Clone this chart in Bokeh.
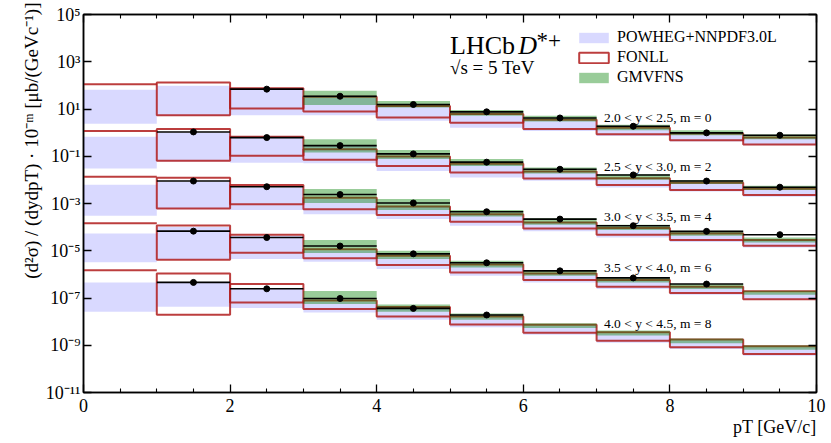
import math
from bokeh.plotting import figure
from bokeh.models import (ColumnDataSource, Range1d, FixedTicker, LinearAxis, LogAxis,
                          CustomJSTickFormatter, Label, Legend, LegendItem, Title)
from bokeh.embed import file_html
from bokeh.resources import INLINE

nan = float("nan")

# ---------------- data ----------------
pt_edges = [0, 1, 2, 3, 4, 5, 6, 7, 8, 9, 10]
y_bins = ["2.0 < y < 2.5", "2.5 < y < 3.0", "3.0 < y < 3.5", "3.5 < y < 4.0", "4.0 < y < 4.5"]
m_exp = [0, 2, 4, 6, 8]

# LHCb measurement, unscaled [μb/(GeV/c)]
data_xs = [
    [nan, nan, 69.2, 34.7, 15.5, 7.59, 4.17, 1.86, 0.977, 0.776],
    [nan, 107, 61.7, 28.2, 12.6, 5.62, 2.82, 1.62, 0.891, 0.490],
    [nan, 89.1, 51.3, 24.0, 10.5, 4.47, 2.19, 1.15, 0.661, 0.479],
    [nan, 67.6, 36.3, 15.8, 7.41, 3.09, 1.41, 0.708, 0.389, nan],
    [nan, 45.7, 24.5, 9.55, 3.63, 1.91, nan, nan, nan, nan],
]
powheg_hi = [
    [64.6, 95.5, 75.9, 32.4, 12.6, 5.50, 3.16, 1.55, 0.851, 0.589],
    [66.1, 100, 61.7, 26.3, 8.91, 4.47, 2.04, 1.07, 0.708, 0.389],
    [61.7, 83.2, 47.9, 15.5, 7.08, 3.24, 1.41, 0.832, 0.479, 0.263],
    [53.7, 102, 42.7, 10.0, 5.25, 2.34, 1.02, 0.537, 0.282, 0.166],
    [45.7, 45.7, 26.3, 6.92, 3.39, 1.51, 0.661, 0.316, 0.158, 0.0832],
]
powheg_lo = [
    [2.40, 5.01, 5.50, 5.50, 3.16, 1.62, 1.17, 0.724, 0.417, 0.295],
    [3.02, 6.03, 5.37, 5.01, 2.40, 1.26, 0.912, 0.479, 0.324, 0.191],
    [3.02, 5.75, 5.25, 3.55, 2.19, 1.15, 0.661, 0.363, 0.234, 0.138],
    [3.24, 4.27, 4.47, 3.39, 1.70, 0.871, 0.457, 0.240, 0.138, 0.0832],
    [2.63, 4.27, 3.80, 2.45, 1.20, 0.575, 0.275, 0.129, 0.0692, 0.0363],
]
fonll_hi = [
    [112, 132, 75.9, 33.1, 13.5, 6.17, 3.47, 1.62, 0.912, 0.617],
    [117, 141, 66.1, 20.0, 9.77, 4.79, 2.24, 1.17, 0.759, 0.417],
    [135, 123, 60.3, 17.4, 7.41, 3.55, 1.58, 0.912, 0.537, 0.282],
    [145, 117, 47.9, 11.7, 6.17, 2.63, 1.10, 0.575, 0.302, 0.191],
    [151, 110, 38.9, 7.76, 4.17, 1.66, 0.741, 0.355, 0.174, 0.0912],
]
fonll_lo = [
    [nan, 5.50, 10.5, 7.76, 4.37, 2.63, 1.41, 0.851, 0.479, 0.316],
    [nan, 6.46, 10.5, 7.08, 3.89, 2.04, 1.15, 0.603, 0.372, 0.229],
    [nan, 6.17, 9.33, 5.75, 3.24, 1.70, 0.871, 0.479, 0.282, 0.162],
    [nan, 4.17, 8.32, 4.79, 2.51, 1.20, 0.575, 0.302, 0.162, 0.0891],
    [nan, 1.95, 6.46, 3.39, 1.66, 0.759, 0.339, 0.155, 0.0813, 0.0427],
]
gmvfns_hi = [
    [nan, nan, nan, 58.9, 21.9, 9.12, 5.13, 2.14, 1.26, 0.832],
    [nan, nan, nan, 52.5, 18.6, 7.59, 3.31, 1.74, 0.977, 0.562],
    [nan, nan, nan, 40.7, 15.5, 5.37, 2.40, 1.26, 0.708, 0.363],
    [nan, nan, nan, 28.8, 10.0, 3.80, 1.51, 0.741, 0.389, 0.204],
    [nan, nan, nan, 20.0, 5.37, 2.19, 0.851, 0.417, 0.191, 0.100],
]
gmvfns_lo = [
    [nan, nan, nan, 14.8, 11.5, 5.13, 2.95, 1.26, 0.776, 0.525],
    [nan, nan, nan, 14.5, 7.59, 3.89, 1.86, 1.02, 0.661, 0.372],
    [nan, nan, nan, 10.5, 5.37, 2.82, 1.26, 0.759, 0.427, 0.224],
    [nan, nan, nan, 7.94, 4.47, 1.95, 0.871, 0.457, 0.240, 0.138],
    [nan, nan, nan, 5.62, 2.63, 1.20, 0.537, 0.257, 0.123, 0.0646],
]
y_ticks = [1e5, 1e3, 1e1, 1e-1, 1e-3, 1e-5, 1e-7, 1e-9, 1e-11]
x_ticks = [0, 2, 4, 6, 8, 10]
x_minor = [0.5, 1, 1.5, 2.5, 3, 3.5, 4.5, 5, 5.5, 6.5, 7, 7.5, 8.5, 9, 9.5]

# ---------------- styles ----------------
SERIF = "Liberation Serif"
BLUE = "blue"
RED = "#b01c1c"
GREEN = "green"

p = figure(width=831, height=443, x_range=Range1d(0, 10), y_range=Range1d(1e-11, 1e5),
           y_axis_type="log", output_backend="svg", toolbar_location=None,
           min_border_left=83, min_border_right=15, min_border_top=14, min_border_bottom=51)
p.grid.visible = False
p.outline_line_color = "black"
p.outline_line_width = 1.5
p.background_fill_color = "white"
p.border_fill_color = "white"

def finite(*vals):
    return all(v == v for v in vals)

lefts, rights = pt_edges[:-1], pt_edges[1:]
pow_r = fonll_r = gmv_r = None
for r in range(len(y_bins)):
    s = 10.0 ** (-m_exp[r])
    idx = [i for i in range(10) if finite(powheg_hi[r][i], powheg_lo[r][i])]
    src = ColumnDataSource(dict(left=[lefts[i] for i in idx], right=[rights[i] for i in idx],
                                top=[powheg_hi[r][i] * s for i in idx],
                                bottom=[powheg_lo[r][i] * s for i in idx]))
    rr = p.quad(left="left", right="right", top="top", bottom="bottom", source=src,
                fill_color=BLUE, fill_alpha=0.15, line_color=None)
    if pow_r is None:
        pow_r = rr
for r in range(len(y_bins)):
    s = 10.0 ** (-m_exp[r])
    idx = [i for i in range(10) if finite(fonll_hi[r][i], fonll_lo[r][i])]
    src = ColumnDataSource(dict(left=[lefts[i] for i in idx], right=[rights[i] for i in idx],
                                top=[fonll_hi[r][i] * s for i in idx],
                                bottom=[fonll_lo[r][i] * s for i in idx]))
    rr = p.quad(left="left", right="right", top="top", bottom="bottom", source=src,
                fill_color=None, line_color=RED, line_width=2, line_alpha=0.85)
    if fonll_r is None:
        fonll_r = rr
    jdx = [i for i in range(10) if finite(fonll_hi[r][i]) and not finite(fonll_lo[r][i])]
    src2 = ColumnDataSource(dict(x0=[lefts[i] for i in jdx], x1=[rights[i] for i in jdx],
                                 y=[fonll_hi[r][i] * s for i in jdx]))
    p.segment(x0="x0", x1="x1", y0="y", y1="y", source=src2, line_color=RED,
              line_width=2, line_alpha=0.85)
for r in range(len(y_bins)):
    s = 10.0 ** (-m_exp[r])
    idx = [i for i in range(10) if finite(gmvfns_hi[r][i], gmvfns_lo[r][i])]
    src = ColumnDataSource(dict(left=[lefts[i] for i in idx], right=[rights[i] for i in idx],
                                top=[gmvfns_hi[r][i] * s for i in idx],
                                bottom=[gmvfns_lo[r][i] * s for i in idx]))
    rr = p.quad(left="left", right="right", top="top", bottom="bottom", source=src,
                fill_color=GREEN, fill_alpha=0.4, line_color=None)
    if gmv_r is None:
        gmv_r = rr
for r in range(len(y_bins)):
    s = 10.0 ** (-m_exp[r])
    idx = [i for i in range(10) if finite(data_xs[r][i])]
    src = ColumnDataSource(dict(x0=[lefts[i] for i in idx], x1=[rights[i] for i in idx],
                                xc=[(lefts[i] + rights[i]) / 2 for i in idx],
                                y=[data_xs[r][i] * s for i in idx]))
    p.segment(x0="x0", x1="x1", y0="y", y1="y", source=src, line_color="black", line_width=1.6)
    p.scatter(x="xc", y="y", source=src, size=6, color="black")

# ---------------- axes ----------------
fmt = CustomJSTickFormatter(code="""
const sup = {"0":"\u2070","1":"\u00b9","2":"\u00b2","3":"\u00b3","4":"\u2074","5":"\u2075",
             "6":"\u2076","7":"\u2077","8":"\u2078","9":"\u2079","-":"\u207b"};
const e = Math.round(Math.log10(tick));
let s = "";
for (const c of String(e)) { s += sup[c]; }
return "10" + s;
""")
blank = CustomJSTickFormatter(code="return '';")

def style_axis(ax):
    ax.axis_line_width = 1.5
    ax.axis_line_color = "black"
    ax.major_tick_in = 8
    ax.major_tick_out = 0
    ax.minor_tick_in = 4
    ax.minor_tick_out = 0
    ax.major_tick_line_width = 1.3
    ax.minor_tick_line_width = 1.1
    ax.major_tick_line_color = "black"
    ax.minor_tick_line_color = "black"
    ax.major_label_text_font = SERIF
    ax.major_label_text_color = "black"
    ax.major_label_text_font_size = "18px"

yt = FixedTicker(ticks=y_ticks, minor_ticks=[])
xt = FixedTicker(ticks=x_ticks, minor_ticks=x_minor)
p.yaxis.ticker = yt
p.yaxis.formatter = fmt
p.xaxis.ticker = xt
for ax in p.yaxis:
    style_axis(ax)
    ax.major_label_standoff = 3
for ax in p.xaxis:
    style_axis(ax)
    ax.major_label_standoff = 6

top_ax = LinearAxis(ticker=xt, formatter=blank)
style_axis(top_ax)
top_ax.major_label_standoff = 0
p.add_layout(top_ax, "above")
right_ax = LogAxis(ticker=yt, formatter=blank)
style_axis(right_ax)
right_ax.major_label_standoff = 0
p.add_layout(right_ax, "right")

# axis titles
p.add_layout(Title(text="(d²σ) / (dydpT) · 10⁻ᵐ [μb/(GeVc⁻¹)]", align="right",
                   text_font=SERIF, text_font_size="19px", text_font_style="normal",
                   text_color="black", standoff=2, offset=-12), "left")
p.add_layout(Title(text="pT [GeV/c]", align="right", text_font=SERIF, text_font_size="18px",
                   text_font_style="normal", text_color="black", standoff=0), "below")

# ---------------- texts ----------------
def lab(x, ly, text, size, **kw):
    p.add_layout(Label(x=x, y=10 ** ly, text=text, text_font=SERIF, text_font_size=size,
                       text_color="black", **kw))

lab(5.0, 3.67, "LHCb", "26px", text_baseline="alphabetic")
lab(5.93, 3.67, "D", "26px", text_font_style="italic", text_baseline="alphabetic")
lab(6.18, 3.90, "*+", "23px", text_baseline="alphabetic")
lab(5.0, 2.74, "√s = 5 TeV", "19px", text_baseline="alphabetic")

row_label_y = [0.636, -1.436, -3.562, -5.73, -8.07]
for r in range(len(y_bins)):
    lab(7.1, row_label_y[r], f"{y_bins[r]}, m = {m_exp[r]}", "13.5px", text_baseline="middle")

legend = Legend(items=[LegendItem(label="POWHEG+NNPDF3.0L", renderers=[pow_r]),
                       LegendItem(label="FONLL", renderers=[fonll_r]),
                       LegendItem(label="GMVFNS", renderers=[gmv_r])],
                location=(492, 306), padding=0, margin=0, spacing=2,
                glyph_width=37, glyph_height=13, label_height=18, label_standoff=5,
                label_text_font=SERIF, label_text_font_size="16px", label_text_color="black",
                border_line_color=None, background_fill_alpha=0)
p.add_layout(legend)

open("out.html", "w").write(file_html(p, INLINE))
